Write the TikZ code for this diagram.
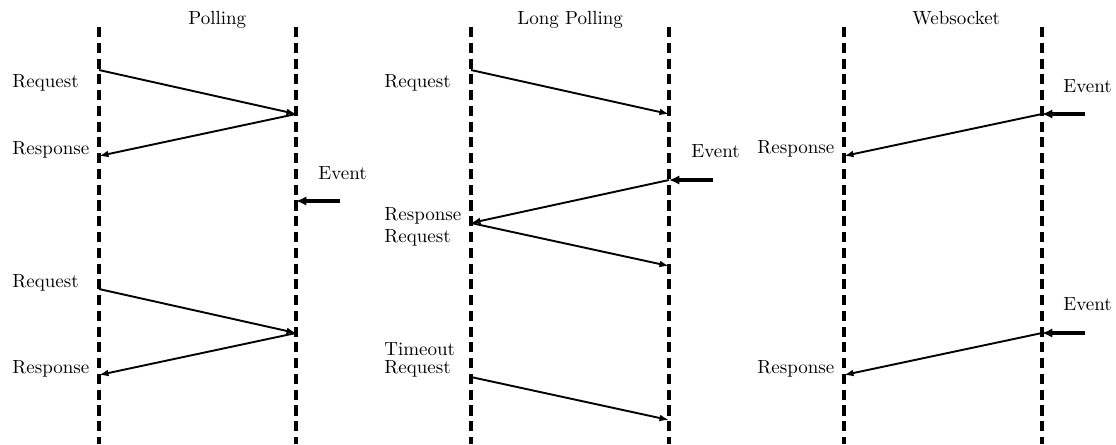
\documentclass[tikz,border=0pt]{standalone}
\usetikzlibrary{arrows.meta}
\begin{document}
\begin{tikzpicture}[x=0.5263pt,y=-0.5263pt,
  life/.style={line width=1.6pt, dash pattern=on 5.3pt off 3pt},
  msg/.style={line width=1pt,-{Latex[length=5pt,width=3.6pt]}},
  evt/.style={line width=1.6pt,-{Latex[length=5.5pt,width=5pt]}},
  lbl/.style={anchor=base west, inner sep=0pt}]
\useasboundingbox (0,0) rectangle (1116,444);

% ---------- lifelines ----------
\foreach \n/\x in {pa/99, pb/296, la/471, lb/669, wa/844, wb/1042}{
  \coordinate (\n top) at (\x,27);
  \coordinate (\n bot) at (\x,444);
  \draw[life] (\n top) -- (\n bot);
}

% ---------- titles ----------
\node[lbl] (tpoll) at (188,24) {Polling};
\node[lbl] (tlong) at (517,24) {Long Polling};
\node[lbl] (tweb)  at (912,24) {Websocket};

% ---------- Polling ----------
\coordinate (p1) at (99,70);
\coordinate (p2) at (296,114);
\coordinate (p3) at (99,156);
\coordinate (pe) at (296,201);
\coordinate (pes) at (340,201);
\coordinate (p4) at (99,289);
\coordinate (p5) at (296,333);
\coordinate (p6) at (99,375);
\draw[msg] (p1) -- (p2);
\draw[msg] (p2) -- (p3);
\draw[evt] (pes) -- (pe);
\draw[msg] (p4) -- (p5);
\draw[msg] (p5) -- (p6);
\node[lbl] (preq1) at (12,87) {Request};
\node[lbl] (pres1) at (12,154) {Response};
\node[lbl] (pev)   at (318,179) {Event};
\node[lbl] (preq2) at (12,287) {Request};
\node[lbl] (pres2) at (12,373) {Response};

% ---------- Long Polling ----------
\coordinate (l1) at (471,70);
\coordinate (l2) at (669,114);
\coordinate (le) at (669,180);
\coordinate (les) at (713,180);
\coordinate (l3) at (471,223);
\coordinate (l4) at (669,266);
\coordinate (l5) at (471,377);
\coordinate (l6) at (669,420);
\draw[msg] (l1) -- (l2);
\draw[evt] (les) -- (le);
\draw[msg] (le) -- (l3);
\draw[msg] (l3) -- (l4);
\draw[msg] (l5) -- (l6);
\node[lbl] (lreq1) at (384,87) {Request};
\node[lbl] (lev)   at (691,157) {Event};
\node[lbl] (lres1) at (384,220) {Response};
\node[lbl] (lreq2) at (384,242) {Request};
\node[lbl] (ltime) at (384,355) {Timeout};
\node[lbl] (lreq3) at (384,373) {Request};

% ---------- Websocket ----------
\coordinate (we1) at (1042,114);
\coordinate (we1s) at (1085,114);
\coordinate (w1) at (844,156);
\coordinate (we2) at (1042,333);
\coordinate (we2s) at (1085,333);
\coordinate (w2) at (844,375);
\draw[evt] (we1s) -- (we1);
\draw[msg] (we1) -- (w1);
\draw[evt] (we2s) -- (we2);
\draw[msg] (we2) -- (w2);
\node[lbl] (wev1)  at (1063,92) {Event};
\node[lbl] (wres1) at (757,153) {Response};
\node[lbl] (wev2)  at (1063,310) {Event};
\node[lbl] (wres2) at (757,373) {Response};
\end{tikzpicture}
\end{document}
